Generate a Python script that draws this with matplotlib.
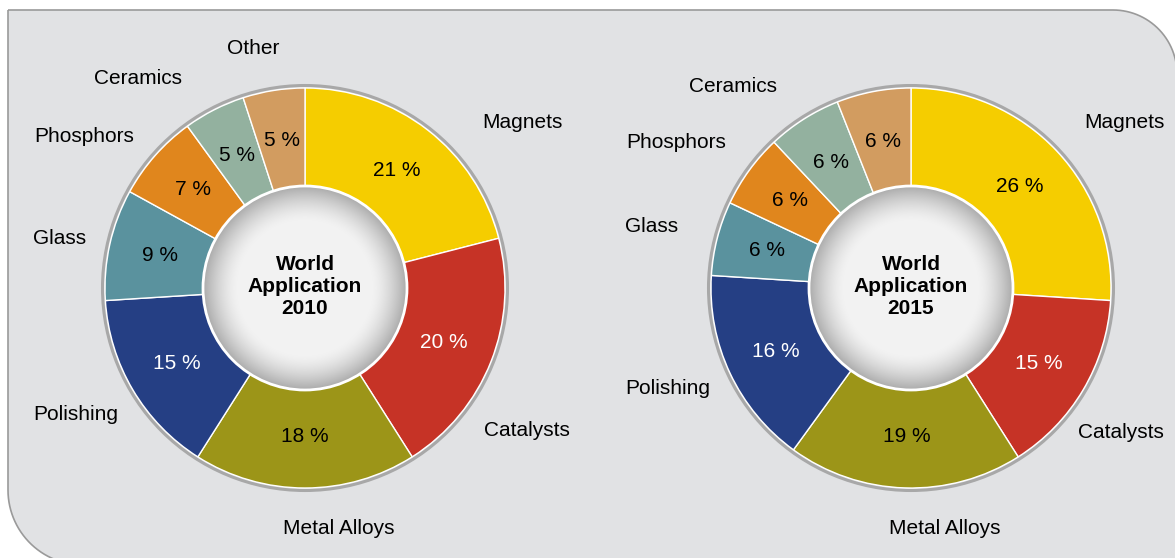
import numpy as np
import matplotlib.pyplot as plt
from matplotlib.path import Path
from matplotlib.patches import PathPatch, Circle

plt.rcParams['font.family'] = ['Liberation Sans', 'DejaVu Sans']

# rare earth applications, share in %
categories = ['Magnets', 'Catalysts', 'Metal Alloys', 'Polishing',
              'Glass', 'Phosphors', 'Ceramics', 'Other']
share_2010 = [21, 20, 18, 15, 9, 7, 5, 5]
share_2015 = [26, 15, 19, 16, 6, 6, 6, 6]
years = ['2010', '2015']

colours = ['#f5cd00', '#c63326', '#9c9518', '#253f84',
           '#5a929e', '#e0861d', '#93b19f', '#d29c60']
pct_colours = ['black', 'white', 'black', 'white',
               'black', 'black', 'black', 'black']

# layout: pie centres (pixels, y up), radius and label offsets (radius units)
W, H = 1175, 558
centres = [(305, 270), (911, 270)]
R = 200
label_pos = [
    [(1.085, 0.825), (1.11, -0.71), (0.17, -1.2), (-1.145, -0.635),
     (-1.225, 0.245), (-1.105, 0.76), (-0.835, 1.05), (-0.26, 1.195)],
    [(1.065, 0.83), (1.05, -0.72), (0.17, -1.2), (-1.215, -0.505),
     (-1.295, 0.31), (-1.175, 0.725), (-0.89, 1.01), None],
]

fig = plt.figure(figsize=(W / 100, H / 100), dpi=100)
ax = fig.add_axes((0, 0, 1, 1))

# grey panel with two rounded corners
r1, r2 = 64, 75
top, left, right, bottom = 548, 8, 1177, -7
t1 = np.linspace(np.pi / 2, 0, 30)
t2 = np.linspace(1.5 * np.pi, np.pi, 30)
verts = [(left, top), (right - r1, top)]
verts += list(zip(right - r1 + r1 * np.cos(t1), top - r1 + r1 * np.sin(t1)))
verts += [(right, bottom), (left + r2, bottom)]
verts += list(zip(left + r2 + r2 * np.cos(t2), bottom + r2 + r2 * np.sin(t2)))
verts += [(left, top)]
panel = PathPatch(Path(verts), facecolor='#e1e2e4', edgecolor='#9a9a9a', lw=1.2, zorder=0)
ax.add_patch(panel)

# radial gradient for the centre disc
n = 300
yy, xx = np.mgrid[-1:1:n * 1j, -1:1:n * 1j]
rr = np.sqrt(xx ** 2 + yy ** 2)
shade = np.where(rr < 0.66, 0.95, 0.95 - 0.28 * np.clip((rr - 0.66) / 0.34, 0, 1) ** 1.5)
grad = np.dstack([shade, shade, shade])

for i, vals in enumerate([share_2010, share_2015]):
    cx, cy = centres[i]
    wedges, texts, autotexts = ax.pie(
        vals, colors=colours, startangle=90, counterclock=False,
        center=(cx, cy), radius=R, autopct=lambda p: '%.0f %%' % p,
        pctdistance=0.745, wedgeprops=dict(width=110, edgecolor='white', linewidth=1),
        textprops=dict(fontsize=15))
    for t, c in zip(autotexts, pct_colours):
        t.set_color(c)
    # outer grey rim
    ax.add_patch(Circle((cx, cy), R + 2.5, fill=False, edgecolor='#a8a8a8', lw=2.2, zorder=1))
    # centre disc
    ri = 102
    disc = Circle((cx, cy), ri, facecolor='none', edgecolor='none')
    ax.add_patch(disc)
    im = ax.imshow(grad, extent=(cx - ri, cx + ri, cy - ri, cy + ri), zorder=3)
    im.set_clip_path(disc)
    ax.add_patch(Circle((cx, cy), ri, fill=False, edgecolor='white', lw=2, zorder=4))
    ax.text(cx, cy + 1, 'World\nApplication\n' + years[i], ha='center', va='center',
            fontsize=15, fontweight='bold', linespacing=1.2, zorder=5)
    for name, pos in zip(categories, label_pos[i]):
        if pos is None:
            continue
        ax.text(cx + pos[0] * R, cy + pos[1] * R, name, ha='center', va='center', fontsize=15)

ax.set_xlim(0, W)
ax.set_ylim(0, H)
ax.set_aspect('equal')
ax.axis('off')

fig.savefig('out.png', dpi=100, facecolor='white')
